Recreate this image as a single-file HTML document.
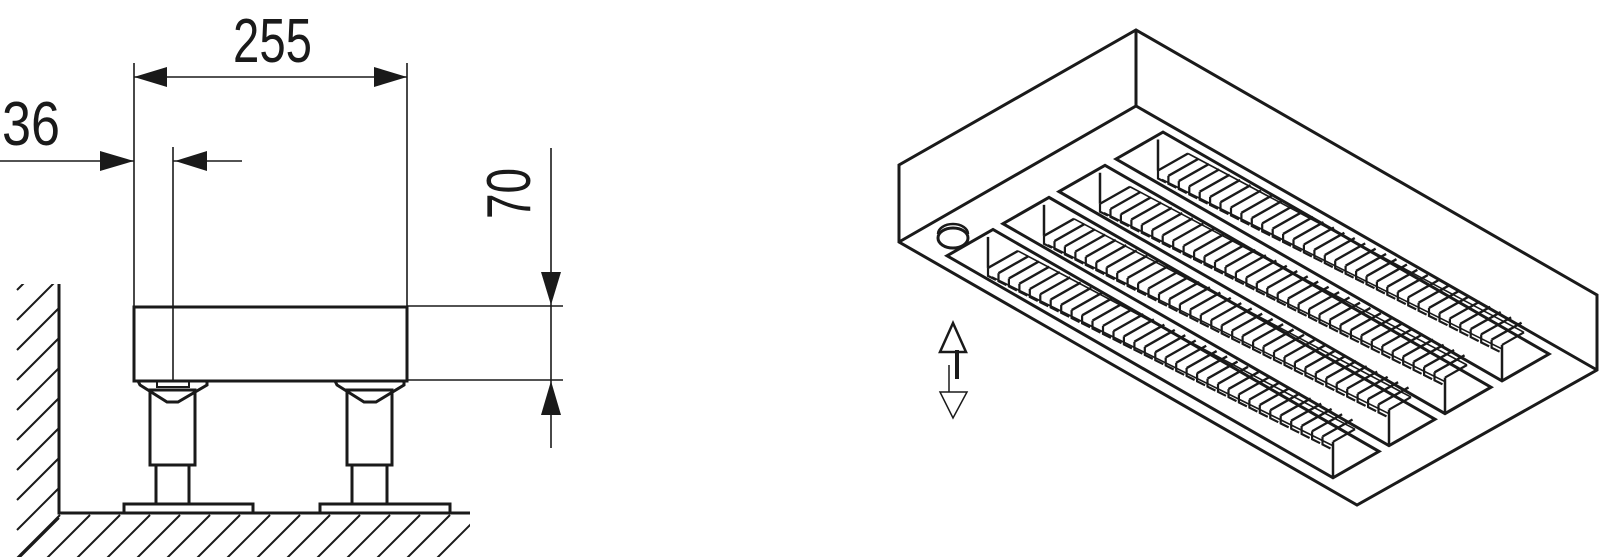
<!DOCTYPE html>
<html><head><meta charset="utf-8"><style>
html,body{margin:0;padding:0;background:#fff;}
svg{display:block;}
</style></head><body>
<svg id="s" width="1600" height="557" viewBox="0 0 1600 557" xmlns="http://www.w3.org/2000/svg">
<defs><clipPath id="hc"><rect x="0" y="284" width="470" height="273"/></clipPath></defs>
<g fill="#1a1a1a" font-family="Liberation Sans, sans-serif">
<text x="233" y="62" font-size="62" textLength="79" lengthAdjust="spacingAndGlyphs">255</text>
<text x="2" y="145" font-size="62" textLength="58" lengthAdjust="spacingAndGlyphs">36</text>
<text transform="translate(530,219) rotate(-90)" font-size="62" textLength="51" lengthAdjust="spacingAndGlyphs">70</text>
</g>
<g stroke="#1a1a1a" stroke-width="1.6" fill="none">
<line x1="134" y1="63" x2="134" y2="307"/>
<line x1="407" y1="63" x2="407" y2="307"/>
<line x1="134" y1="77" x2="407" y2="77"/>
<line x1="0" y1="161" x2="134" y2="161"/>
<line x1="173" y1="147" x2="173" y2="381"/>
<line x1="173" y1="161" x2="242" y2="161"/>
<line x1="551" y1="148" x2="551" y2="448"/>
<line x1="407" y1="306" x2="563" y2="306"/>
<line x1="407" y1="380" x2="563" y2="380"/>
</g>
<g fill="#1a1a1a">
<polygon points="134,77 167,67 167,87"/>
<polygon points="407,77 374,67 374,87"/>
<polygon points="134,161 100,151 100,171"/>
<polygon points="175,161 207,151 207,171"/>
<polygon points="551,305 541,272 561,272"/>
<polygon points="551,381 541,415 561,415"/>
</g>
<g stroke="#1a1a1a" stroke-width="3" fill="none" stroke-linejoin="miter">
<rect x="134" y="307" width="273" height="74"/>
<polyline points="138,381 140,385 167,402 178,402 207,385 207,381"/>
<rect x="157" y="381" width="32" height="6" stroke-width="2"/>
<rect x="150" y="390" width="45" height="75"/>
<rect x="156" y="465" width="33" height="39"/>
<rect x="124" y="504" width="129" height="9"/>
<polyline points="335,381 337,385 364,402 376,402 404,385 404,381"/>
<rect x="347" y="390" width="45" height="75"/>
<rect x="352" y="465" width="35" height="39"/>
<rect x="320" y="504" width="130" height="9"/>
<polyline points="59,284 59,513 470,513"/>
</g>
<g id="hatch" stroke="#1a1a1a" stroke-width="2" clip-path="url(#hc)"></g>
<g id="iso" stroke="#1a1a1a" fill="none" stroke-linejoin="miter"></g>
<g stroke="#1a1a1a" fill="none">
<polygon points="953,323 966,352 960,352 960,352 946,352 940,352" stroke-width="2.5" fill="#fff"/>
<line x1="957" y1="350" x2="957" y2="379" stroke-width="4"/>
<line x1="949" y1="365" x2="949" y2="392" stroke-width="1.5"/>
<polygon points="940,392 967,392 953,418" stroke-width="1.5"/>
</g>
</svg>
<script>
var NS="http://www.w3.org/2000/svg";
function L(g,x1,y1,x2,y2,w){var l=document.createElementNS(NS,"line");l.setAttribute("x1",x1);l.setAttribute("y1",y1);l.setAttribute("x2",x2);l.setAttribute("y2",y2);if(w)l.setAttribute("stroke-width",w);g.appendChild(l);}
function PL(g,pts,w,closed){var p=document.createElementNS(NS,closed?"polygon":"polyline");p.setAttribute("points",pts.map(function(q){return q[0].toFixed(1)+","+q[1].toFixed(1)}).join(" "));p.setAttribute("stroke-width",w);g.appendChild(p);}
var h=document.getElementById("hatch");
for(var y0=248;y0<=520;y0+=30){L(h,17,y0+42,59,y0);}
for(var x=60;x<=500;x+=30){L(h,x,515,x-44,559);}
var g=document.getElementById("iso");
function P(a,b){return [899+a+b,242+0.575*a-0.573*b];}
PL(g,[[899,242],[899,165],[1136,30],[1597,295],[1597,370],[1357,505]],3,true);
PL(g,[[899,242],[1136,106],[1597,370]],3);
L(g,1136,30,1136,106,3);
var e=document.createElementNS(NS,"ellipse");e.setAttribute("cx",953);e.setAttribute("cy",238);e.setAttribute("rx",15);e.setAttribute("ry",10);e.setAttribute("stroke-width",3);g.appendChild(e);
var e2=document.createElementNS(NS,"path");e2.setAttribute("d","M938,234 A15,10 0 0 1 968,234");e2.setAttribute("stroke-width",2.5);g.appendChild(e2);
var slots=[[12,58],[68,114],[124,170],[181,228]];
slots.forEach(function(s){
 var b0=s[0],b1=s[1];
 PL(g,[P(36,b0),P(36,b1),P(422,b1),P(422,b0)],3,true);
 var t=P(40,b1-9);L(g,t[0],t[1],t[0],t[1]+31,2.5);
 var S=[t[0],t[1]+31];
 var f=P(422,b0);L(g,f[0],f[1],f[0],f[1]-36,2.5);
 var E=[f[0],f[1]-36];
 L(g,E[0],E[1],E[0]+22,E[1]-12.6,2.2);
 // upper fin-end line
 L(g,S[0]+30,S[1]-17,E[0]+22,E[1]-12.6,1.6);
 // hook base line
 L(g,S[0]+4,S[1]+9,E[0],E[1]+4,1.6);
 var n=34;
 for(var i=0;i<n-1;i++){
  var k=i/(n-1);var F=[S[0]+(E[0]-S[0])*k,S[1]+(E[1]-S[1])*k];
  L(g,F[0],F[1],F[0]+30,F[1]-17,2.4);
  PL(g,[[F[0],F[1]],[F[0],F[1]+8],[F[0]+8,F[1]+12]],2.2);
 }
});
</script>
</body></html>
